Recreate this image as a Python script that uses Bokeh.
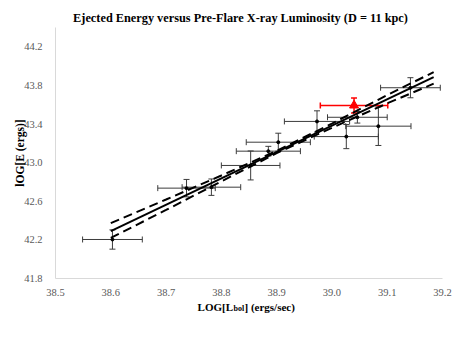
import numpy as np
from bokeh.plotting import figure
from bokeh.models import (ColumnDataSource, Whisker, TeeHead, Label, FixedTicker,
                          NumeralTickFormatter, Range1d, LinearAxis)
from bokeh.embed import file_html
from bokeh.resources import INLINE

# ---- data ----
lum = [38.603, 38.737, 38.782, 38.853, 38.885, 38.903, 38.973, 39.026, 39.046, 39.084, 39.142]
energy = [42.204, 42.736, 42.746, 42.971, 43.119, 43.212, 43.427, 43.270, 43.470, 43.378, 43.776]
lum_err = [0.054, 0.052, 0.053, 0.053, 0.058, 0.058, 0.059, 0.058, 0.054, 0.059, 0.054]
energy_err = [0.10, 0.09, 0.085, 0.15, 0.05, 0.093, 0.11, 0.125, 0.06, 0.20, 0.104]

red_lum = [39.040]
red_energy = [43.593]
red_lum_err = [0.061]
red_energy_err = [0.078]

fit_x = [38.6, 39.184]
fit_y = [42.29, 43.886]
band_x = [38.6, 38.7, 38.8, 38.9, 39.0, 39.1, 39.184]
band_upper = [42.373, 42.618, 42.867, 43.122, 43.405, 43.700, 43.938]
band_lower = [42.220, 42.510, 42.806, 43.098, 43.361, 43.614, 43.818]

x_ticks = [38.5, 38.6, 38.7, 38.8, 38.9, 39.0, 39.1, 39.2]
y_ticks = [41.8, 42.2, 42.6, 43.0, 43.4, 43.8, 44.2]
x_axis_bounds = (38.5, 39.2)
y_axis_bounds = (41.8, 44.4)

title_text = "Ejected Energy versus Pre-Flare X-ray Luminosity (D = 11 kpc)"
ylabel_text = "lOG[E (ergs)]"

SERIF = "Liberation Serif"
GREY_BAR = "#3c3c3c"

# ---- layout: the frame fills the whole figure; axes sit at fixed locations ----
W, H = 463, 349
FL, FR, FT, FB = 55, 442, 27, 278          # plot area edges in pixels
sx = (FR - FL) / (x_axis_bounds[1] - x_axis_bounds[0])
sy = (FB - FT) / (y_axis_bounds[1] - y_axis_bounds[0])
x_range = Range1d(x_axis_bounds[0] - FL / sx, x_axis_bounds[1] + (W - FR) / sx)
y_range = Range1d(y_axis_bounds[0] - (H - FB) / sy, y_axis_bounds[1] + FT / sy)

p = figure(width=W, height=H, output_backend="svg", toolbar_location=None,
           x_range=x_range, y_range=y_range,
           x_axis_location=None, y_axis_location=None, title_location=None,
           min_border=0)
p.outline_line_color = None
p.grid.visible = False
p.background_fill_color = "white"
p.border_fill_color = "white"

xaxis = LinearAxis(fixed_location=y_axis_bounds[0], bounds=x_axis_bounds,
                   ticker=FixedTicker(ticks=x_ticks))
yaxis = LinearAxis(fixed_location=x_axis_bounds[0], bounds=y_axis_bounds,
                   ticker=FixedTicker(ticks=y_ticks))
for ax in (xaxis, yaxis):
    ax.axis_line_color = "#d9d9d9"
    ax.axis_line_width = 1
    ax.major_tick_line_color = None
    ax.major_tick_out = 0
    ax.major_tick_in = 0
    ax.minor_tick_line_color = None
    ax.minor_tick_out = 0
    ax.major_label_text_font = SERIF
    ax.major_label_text_font_size = "10.5px"
    ax.major_label_text_color = "#595959"
    ax.formatter = NumeralTickFormatter(format="0.0")
xaxis.major_label_standoff = 10
yaxis.major_label_standoff = 13
yaxis.axis_label = ylabel_text
yaxis.axis_label_text_font = SERIF
yaxis.axis_label_text_font_style = "bold"
yaxis.axis_label_text_font_size = "11.5px"
yaxis.axis_label_text_color = "black"
yaxis.axis_label_standoff = -5
p.add_layout(xaxis, "below")
p.add_layout(yaxis, "left")

# ---- fit line and confidence band ----
p.line(fit_x, fit_y, line_color="black", line_width=2)
p.line(band_x, band_upper, line_color="black", line_width=2, line_dash="9 5")
p.line(band_x, band_lower, line_color="black", line_width=2, line_dash="9 5")

# ---- error bars ----
def make_source(xs, ys, xe, ye):
    xs, ys, xe, ye = map(np.array, (xs, ys, xe, ye))
    return ColumnDataSource(dict(x=xs, y=ys, xl=xs - xe, xu=xs + xe, yl=ys - ye, yu=ys + ye))

src = make_source(lum, energy, lum_err, energy_err)
red_src = make_source(red_lum, red_energy, red_lum_err, red_energy_err)

def add_bars(source, color, width):
    for base, lo, up, dim in (("y", "xl", "xu", "width"), ("x", "yl", "yu", "height")):
        p.add_layout(Whisker(source=source, base=base, lower=lo, upper=up, dimension=dim,
                             line_color=color, line_width=width,
                             upper_head=TeeHead(size=6, line_color=color, line_width=width),
                             lower_head=TeeHead(size=6, line_color=color, line_width=width)))

add_bars(src, GREY_BAR, 1)
add_bars(red_src, "#ff0000", 1.5)

p.scatter("x", "y", source=src, marker="circle", size=3, color="black")
p.scatter("x", "y", source=red_src, marker="triangle", size=9, color="#ff0000")

# ---- title ----
p.add_layout(Label(x=x_axis_bounds[0], y=y_axis_bounds[1], x_offset=185, y_offset=10,
                   text=title_text, text_font=SERIF, text_font_style="bold",
                   text_font_size="12.3px", text_align="center", text_baseline="alphabetic",
                   text_color="black"))

# ---- x axis label with subscript ----
lab_kw = dict(x=x_axis_bounds[0], y=y_axis_bounds[0], text_font=SERIF, text_font_style="bold",
              text_baseline="alphabetic", text_color="black")
p.add_layout(Label(x_offset=177.5, y_offset=-28, text="LOG[L", text_font_size="11px",
                   text_align="right", **lab_kw))
p.add_layout(Label(x_offset=178, y_offset=-30, text="bol", text_font_size="8px",
                   text_align="left", **lab_kw))
p.add_layout(Label(x_offset=189, y_offset=-28, text="] (ergs/sec)", text_font_size="11px",
                   text_align="left", **lab_kw))

open("out.html", "w").write(file_html(p, INLINE))
